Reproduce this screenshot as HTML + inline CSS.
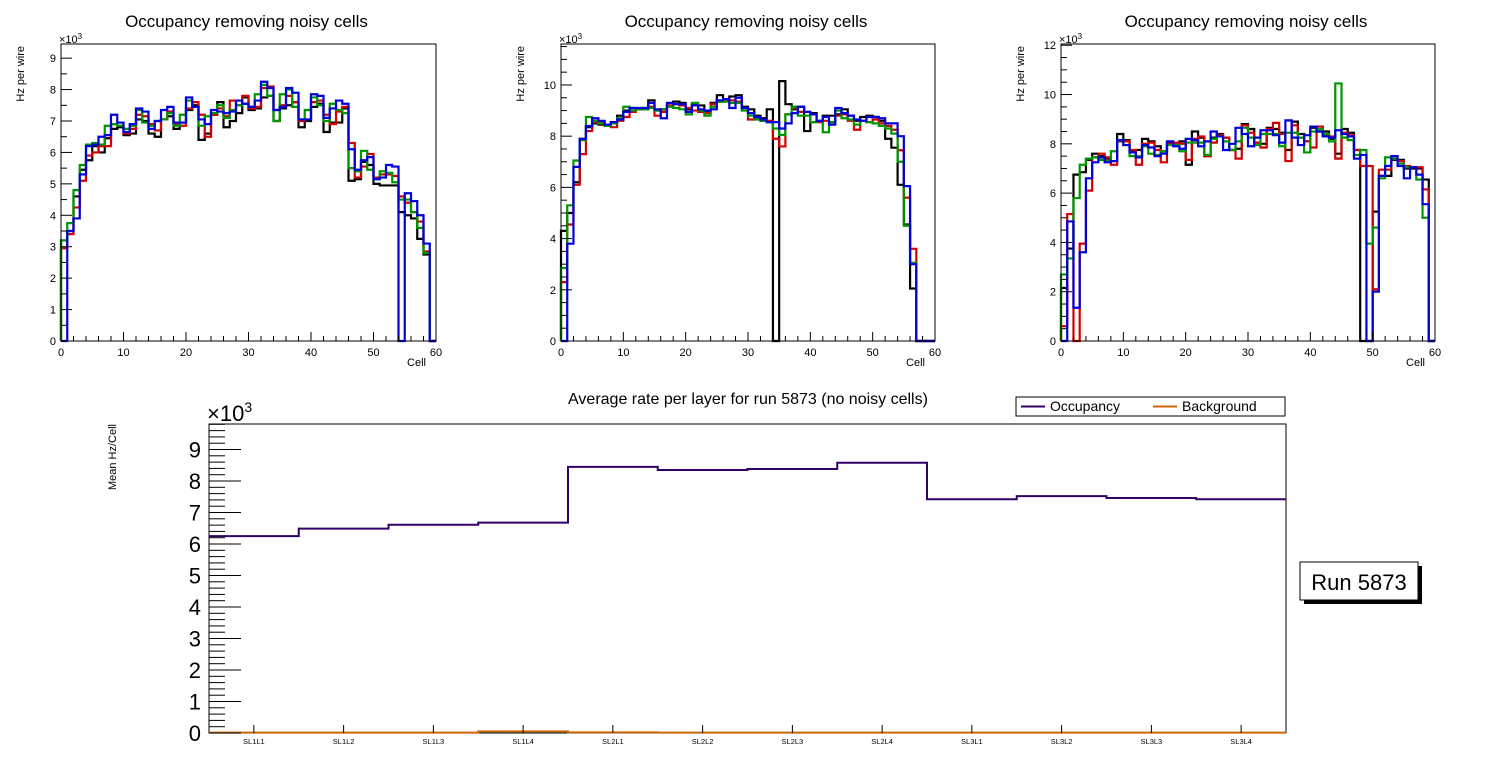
<!DOCTYPE html>
<html><head><meta charset="utf-8">
<style>
html,body{margin:0;padding:0;background:#fff;}
svg{display:block;font-family:"Liberation Sans",Arial,sans-serif;}
</style></head>
<body>
<svg id="c" width="1496" height="772" viewBox="0 0 1496 772">
<rect width="1496" height="772" fill="#fff"/>
</svg>
<script>
// Panel 1 data
const p1Black=[3.2,3.5,4.6,5.45,5.75,6.2,6.0,6.45,6.75,6.8,6.55,6.6,7.05,7.0,6.6,6.5,7.05,7.15,6.75,6.95,7.35,7.5,6.4,6.6,7.2,7.6,6.8,7.0,7.25,7.75,7.35,7.4,7.75,7.8,7.0,7.4,7.5,7.6,6.8,7.0,7.45,7.55,6.65,6.95,6.95,7.4,5.1,5.15,5.7,5.6,5.0,4.95,4.95,4.95,4.1,4.0,3.9,3.25,2.75,0];
const p1Red=[2.95,3.4,4.25,5.1,5.9,6.0,6.2,6.2,6.9,6.95,6.6,6.75,7.2,7.15,6.9,6.7,7.05,7.3,6.9,6.85,7.4,7.6,7.2,6.5,7.2,7.4,7.15,7.65,7.5,7.8,7.4,7.45,8.05,8.1,7.35,7.5,7.8,7.6,7.0,7.05,7.6,7.65,7.2,6.9,7.3,7.45,6.3,5.2,5.55,5.95,5.2,5.3,5.3,5.25,4.6,4.4,4.1,3.8,2.85,0];
const p1Green=[3.2,3.75,4.8,5.6,6.25,6.3,6.25,6.85,6.9,6.85,6.75,6.85,7.35,6.95,6.85,7.0,7.05,7.25,6.85,7.2,7.65,7.45,6.85,7.15,7.25,7.5,7.1,7.35,7.5,7.55,7.45,7.85,8.15,7.8,7.0,7.85,8.0,7.45,7.05,7.35,7.75,7.5,7.0,7.55,7.35,7.25,5.5,5.4,6.05,5.45,5.15,5.4,5.35,5.05,4.5,4.5,4.1,3.6,2.8,0];
const p1Blue=[0,3.5,3.9,5.3,6.2,6.25,6.5,6.55,7.2,6.95,6.65,6.9,7.4,7.3,6.75,7.0,7.35,7.45,6.95,6.95,7.75,7.45,7.05,6.9,7.35,7.3,7.25,7.3,7.65,7.55,7.45,7.65,8.25,8.05,7.35,7.45,8.05,7.9,7.05,7.05,7.85,7.8,7.1,7.4,7.65,7.55,6.1,5.45,5.75,5.85,5.15,5.2,5.6,5.55,0,4.7,4.45,4.0,3.1,0];
// Panel 2 data
const p2Black=[4.3,5.0,6.2,7.85,8.35,8.5,8.45,8.4,8.55,8.8,9.0,9.1,9.05,9.1,9.4,9.0,9.05,9.2,9.35,9.3,9.05,9.25,9.2,8.95,9.3,9.6,9.4,9.55,9.6,9.15,9.05,8.8,8.7,9.05,0,10.15,9.25,9.05,9.15,8.2,8.9,8.6,8.8,8.8,8.85,9.05,8.8,8.6,8.75,8.8,8.75,8.6,7.9,7.55,6.1,4.55,2.05,0,0,0];
const p2Red=[2.3,4.55,6.1,7.3,8.2,8.55,8.55,8.4,8.35,8.6,8.75,8.95,9.05,9.05,9.15,8.8,8.95,9.2,9.25,9.2,9.1,9.0,8.95,8.9,9.25,9.35,9.4,9.4,9.35,9.1,8.65,8.7,8.6,8.6,7.9,7.6,8.85,9.1,8.95,8.95,8.55,8.55,8.6,8.55,8.8,8.85,8.6,8.25,8.6,8.55,8.65,8.5,8.4,8.25,7.45,5.6,3.6,0,0,0];
const p2Green=[2.85,5.3,7.05,7.85,8.75,8.6,8.5,8.4,8.5,8.7,9.15,9.0,9.05,9.05,9.1,9.0,9.05,9.15,9.1,9.05,8.85,9.3,9.0,8.8,9.15,9.35,9.35,9.3,9.3,9.0,8.8,8.65,8.6,8.55,8.3,8.05,8.85,9.15,8.8,8.8,8.55,8.6,8.15,8.55,9.0,8.7,8.65,8.45,8.6,8.55,8.5,8.4,8.3,8.1,7.0,4.5,3.05,0,0,0];
const p2Blue=[0,3.8,6.8,7.9,8.4,8.7,8.6,8.45,8.55,8.65,8.95,9.1,9.1,9.1,9.3,9.05,8.7,9.3,9.25,9.25,8.95,9.2,9.05,9.0,9.05,9.4,9.45,9.1,9.5,9.1,8.9,8.75,8.65,8.55,8.55,8.3,8.5,8.9,9.15,8.95,8.85,8.6,8.75,8.45,9.1,8.9,8.8,8.65,8.6,8.75,8.75,8.7,8.5,8.5,8.0,6.05,3.0,0,0,0];
// Panel 3 data
const p3Black=[2.15,3.75,6.75,6.85,7.35,7.6,7.5,7.4,7.3,8.4,8.15,7.7,7.75,8.2,8.1,7.9,7.7,8.05,8.05,8.1,7.15,8.5,8.25,7.5,8.25,8.4,8.25,7.75,7.8,8.8,8.6,8.05,8.0,8.65,8.6,8.45,7.75,8.9,8.4,8.1,8.65,8.5,8.5,8.2,7.6,8.6,8.45,7.75,0,0,5.25,6.7,6.7,7.35,7.35,7.0,7.0,7.0,6.55,0];
const p3Red=[0.6,5.15,0,3.95,6.1,7.45,7.6,7.45,7.15,8.1,8.1,7.75,7.15,8.0,8.05,7.75,7.25,8.0,8.05,8.0,7.35,8.2,8.3,7.5,8.05,8.35,8.25,7.75,7.4,8.75,8.45,8.05,7.85,8.6,8.85,8.4,7.3,8.75,8.25,8.1,7.85,8.7,8.35,8.3,7.4,8.45,8.35,7.75,7.1,7.1,2.1,6.95,6.95,7.4,7.3,7.1,7.05,7.05,6.15,0];
const p3Green=[2.7,3.35,5.8,7.15,7.4,7.45,7.35,7.3,7.7,8.15,7.95,7.5,7.5,7.9,7.6,7.55,7.7,7.95,7.95,7.7,8.05,8.05,8.05,7.55,8.2,8.3,8.1,7.75,8.1,8.65,8.25,7.95,8.4,8.4,8.4,7.9,8.45,8.45,8.25,7.65,8.5,8.6,8.4,8.1,10.45,8.25,8.15,7.55,7.75,3.95,4.6,6.6,7.45,7.4,7.2,7.05,7.05,6.55,5.0,0];
const p3Blue=[0,4.85,1.35,3.6,6.6,7.25,7.45,7.25,7.3,8.15,7.95,7.65,7.45,7.95,7.85,7.5,7.6,8.1,7.9,7.8,8.2,8.15,7.9,8.1,8.5,8.3,7.75,8.0,8.65,8.4,7.9,8.25,8.55,8.55,8.35,8.05,8.95,8.25,7.95,8.35,8.7,8.5,8.3,8.25,8.55,8.4,8.3,7.4,7.55,0,2.0,6.7,7.1,7.5,7.1,6.6,7.05,6.75,5.55,0];
// Bottom chart data
const layers=["SL1L1","SL1L2","SL1L3","SL1L4","SL2L1","SL2L2","SL2L3","SL2L4","SL3L1","SL3L2","SL3L3","SL3L4"];
const occupancy=[6.25,6.49,6.61,6.68,8.45,8.35,8.38,8.58,7.42,7.52,7.46,7.42];
const background=[0.01,0.01,0.01,0.05,0.02,0.01,0.01,0.01,0.01,0.01,0.01,0.01];

const NS="http://www.w3.org/2000/svg";
const svg=document.getElementById('c');
function mk(tag,attrs,parent){const e=document.createElementNS(NS,tag);for(const k in attrs)e.setAttribute(k,attrs[k]);(parent||svg).appendChild(e);return e;}
function txt(s,attrs,parent){const e=mk('text',attrs,parent);e.textContent=s;return e;}

function panel(idx,L,R,T,B,ymax,majorStep,minorStep,yLabels,series){
  const g=mk('g',{});
  
  
  const xs=v=>L+(R-L)*v/60, ys=v=>B-(B-T)*v/ymax;
  const colors=['#000000','#d40000','#009600','#0000dc'];
  const names=['black','red','green','blue'];
  series.forEach((arr,si)=>{
    let d='M'+xs(0)+' '+ys(0);
    for(let k=0;k<arr.length;k++){d+=' L'+xs(k)+' '+ys(arr[k])+' L'+xs(k+1)+' '+ys(arr[k]);}
    d+=' L'+xs(60)+' '+ys(0);
    const p=mk('path',{d:d,fill:'none',stroke:colors[si],'stroke-width':2.2},g);
    
    
  });
  const f=mk('rect',{x:L,y:T,width:R-L,height:B-T,fill:'none',stroke:'#000','stroke-width':1},g);
  
  
  // x ticks
  for(let v=0;v<=60;v+=2){const maj=v%10===0;mk('line',{x1:xs(v),x2:xs(v),y1:B,y2:B-(maj?9:5),stroke:'#000','stroke-width':1},g);}
  for(let v=0;v<=60;v+=10){const t=txt(String(v),{x:xs(v),y:B+15,'font-size':11,'text-anchor':'middle'},g);}
  // y ticks
  for(let v=0;v<=ymax+1e-6;v+=minorStep){const maj=Math.abs(v/majorStep-Math.round(v/majorStep))<1e-6;mk('line',{x1:L,x2:L+(maj?11:6),y1:ys(v),y2:ys(v),stroke:'#000','stroke-width':1},g);}
  yLabels.forEach(v=>{const t=txt(String(v),{x:L-5,y:ys(v)+4,'font-size':11,'text-anchor':'end'},g);});
  const t1=txt('Occupancy removing noisy cells',{x:(L+R)/2-2,y:27,'font-size':17,'text-anchor':'middle'},g);
  
  const t2=txt('Hz per wire',{x:0,y:0,'font-size':11,'text-anchor':'end',transform:'translate('+(L-37)+','+(T+2)+') rotate(-90)'},g);
  
  const t3=txt('Cell',{x:R-10,y:B+25,'font-size':11,'text-anchor':'end'},g);
  
  const t4=mk('text',{x:L-2,y:T-1,'font-size':11},g);
  t4.innerHTML='×10<tspan font-size="8" dy="-4">3</tspan>';
  
}
panel(1,61,436,44,341,9.45,1,0.5,[0,1,2,3,4,5,6,7,8,9],[p1Black,p1Red,p1Green,p1Blue]);
panel(2,561,935,44,341,11.6,2,0.5,[0,2,4,6,8,10],[p2Black,p2Red,p2Green,p2Blue]);
panel(3,1061,1435,44,341,12.05,2,0.5,[0,2,4,6,8,10,12],[p3Black,p3Red,p3Green,p3Blue]);

// Bottom chart
(function(){
  const L=209,R=1286,T=424,B=733,ymax=9.81;
  const g=mk('g',{});
  
  
  const n=layers.length,bw=(R-L)/n;
  const xs=i=>L+bw*i, ys=v=>B-(B-T)*v/ymax;
  function step(arr,color,name){
    let d='M'+xs(0)+' '+ys(arr[0]);
    for(let i=0;i<n;i++){d+=' L'+xs(i)+' '+ys(arr[i])+' L'+xs(i+1)+' '+ys(arr[i]);}
    const p=mk('path',{d:d,fill:'none',stroke:color,'stroke-width':2},g);
    
    
  }
  const f=mk('rect',{x:L,y:T,width:R-L,height:B-T,fill:'none',stroke:'#000','stroke-width':1},g);
  
  step(occupancy,'#330066','occupancy-line');
  step(background,'#cc6600','background-line');
  for(let v=0;v<=ymax+1e-6;v+=0.2){const maj=Math.abs(v-Math.round(v))<1e-6;mk('line',{x1:L,x2:L+(maj?32:16),y1:ys(v),y2:ys(v),stroke:'#000','stroke-width':1},g);}
  for(let v=0;v<=9;v++){const t=txt(String(v),{x:L-8,y:ys(v)+8,'font-size':22,'text-anchor':'end'},g);}
  layers.forEach((s,i)=>{
    mk('line',{x1:xs(i)+bw/2,x2:xs(i)+bw/2,y1:B,y2:B-8,stroke:'#000','stroke-width':1},g);
    const t=txt(s,{x:xs(i)+bw/2,y:B+11,'font-size':7.5,'text-anchor':'middle'},g);
    
  });
  const e=mk('text',{x:L-2,y:T-3,'font-size':22},g);
  e.innerHTML='×10<tspan font-size="14" dy="-9">3</tspan>';
  
  const yt=txt('Mean Hz/Cell',{x:0,y:0,'font-size':11,'text-anchor':'end',transform:'translate(116,424) rotate(-90)'},g);
  
  const tt=txt('Average rate per layer for run 5873 (no noisy cells)',{x:748,y:404,'font-size':16,'text-anchor':'middle'},g);
  
  // legend
  const lg=mk('g',{},g);
  
  mk('rect',{x:1016,y:397,width:269,height:19,fill:'#fff',stroke:'#000','stroke-width':1},lg);
  mk('line',{x1:1021,x2:1045,y1:406.5,y2:406.5,stroke:'#330066','stroke-width':2},lg);
  const l1=txt('Occupancy',{x:1050,y:411,'font-size':14},lg);
  
  mk('line',{x1:1153,x2:1177,y1:406.5,y2:406.5,stroke:'#cc6600','stroke-width':2},lg);
  const l2=txt('Background',{x:1182,y:411,'font-size':14},lg);
  
  // run box
  const rb=mk('g',{},g);
  
  mk('rect',{x:1304,y:566,width:118,height:38,fill:'#000'},rb);
  mk('rect',{x:1300,y:562,width:118,height:38,fill:'#fff',stroke:'#000','stroke-width':1},rb);
  txt('Run 5873',{x:1359,y:590,'font-size':22,'text-anchor':'middle'},rb);
})();
</script>
</body></html>
